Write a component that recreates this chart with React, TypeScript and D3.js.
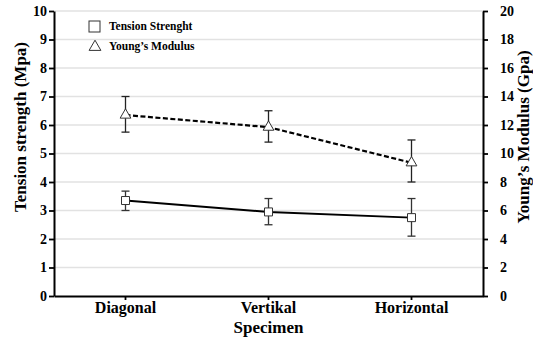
import { useEffect, useRef } from "react";
import * as d3 from "d3";

const specimens = ["Diagonal", "Vertikal", "Horizontal"];
const tensionMean = [3.35, 2.95, 2.75];
const tensionLow = [3.0, 2.5, 2.1];
const tensionHigh = [3.68, 3.42, 3.42];
const youngMean = [12.7, 11.85, 9.35];
const youngLow = [11.5, 10.8, 8.0];
const youngHigh = [14.0, 13.0, 10.95];
const leftTicks = d3.range(0, 11, 1);
const rightTicks = d3.range(0, 21, 2);

const FONT = "Liberation Serif, DejaVu Serif, serif";

const App = () => {
  const ref = useRef<SVGSVGElement>(null);

  useEffect(() => {
    const width = 533;
    const height = 343;
    const margin = { top: 11, right: 50, bottom: 47, left: 54 };
    const svg = d3.select(ref.current);
    svg.selectAll("*").remove();

    const x = d3.scaleBand().domain(specimens).range([margin.left, width - margin.right]).padding(0);
    const yL = d3.scaleLinear().domain([0, 10]).range([height - margin.bottom, margin.top]);
    const yR = d3.scaleLinear().domain([0, 20]).range([height - margin.bottom, margin.top]);
    const cx = (s: string) => (x(s) as number) + x.bandwidth() / 2;

    // grid
    svg.append("g")
      .selectAll("line")
      .data(leftTicks.slice(1))
      .join("line")
      .attr("x1", margin.left)
      .attr("x2", width - margin.right)
      .attr("y1", (d) => yL(d))
      .attr("y2", (d) => yL(d))
      .attr("stroke", "#e2e2e2")
      .attr("stroke-width", 1.5);

    const styleAxis = (g: any) => {
      g.attr("font-family", null);
      g.select(".domain").attr("stroke", "#000").attr("stroke-width", 2);
      g.selectAll(".tick line").attr("stroke", "#000").attr("stroke-width", 1.8);
      g.selectAll("text").style("font-family", FONT).style("font-weight", "bold").style("font-size", "14px").attr("fill", "#000");
    };

    svg.append("g")
      .attr("transform", `translate(${margin.left},0)`)
      .call(d3.axisLeft(yL).tickValues(leftTicks).tickSize(5).tickSizeOuter(0).tickPadding(2))
      .call(styleAxis);

    svg.append("g")
      .attr("transform", `translate(${width - margin.right},0)`)
      .call(d3.axisRight(yR).tickValues(rightTicks).tickSize(5).tickSizeOuter(0).tickPadding(12))
      .call(styleAxis);

    svg.append("g")
      .attr("transform", `translate(0,${height - margin.bottom})`)
      .call(d3.axisBottom(x).tickSize(4).tickSizeOuter(0).tickPadding(2))
      .call(styleAxis)
      .selectAll("text")
      .style("font-size", "16px");

    // error bars
    const errBars = (low: number[], high: number[], y: d3.ScaleLinear<number, number>, color: string) => {
      const g = svg.append("g").attr("stroke", color).attr("stroke-width", 1.3);
      specimens.forEach((s, i) => {
        g.append("line").attr("x1", cx(s)).attr("x2", cx(s)).attr("y1", y(low[i])).attr("y2", y(high[i]));
        g.append("line").attr("x1", cx(s) - 4).attr("x2", cx(s) + 4).attr("y1", y(low[i])).attr("y2", y(low[i]));
        g.append("line").attr("x1", cx(s) - 4).attr("x2", cx(s) + 4).attr("y1", y(high[i])).attr("y2", y(high[i]));
      });
    };
    errBars(tensionLow, tensionHigh, yL, "#333");
    errBars(youngLow, youngHigh, yR, "#222");

    const lineT = d3.line<number>().x((_, i) => cx(specimens[i])).y((d) => yL(d));
    const lineY = d3.line<number>().x((_, i) => cx(specimens[i])).y((d) => yR(d));

    svg.append("path").datum(tensionMean).attr("d", lineT).attr("fill", "none").attr("stroke", "#000").attr("stroke-width", 2);
    svg.append("path").datum(youngMean).attr("d", lineY).attr("fill", "none").attr("stroke", "#000").attr("stroke-width", 2.2).attr("stroke-dasharray", "5,2.5");

    const sq = d3.symbol().type(d3.symbolSquare).size(64);
    const tri = d3.symbol().type(d3.symbolTriangle).size(50);

    svg.append("g").selectAll("path").data(tensionMean).join("path")
      .attr("d", sq)
      .attr("transform", (d, i) => `translate(${cx(specimens[i])},${yL(d)})`)
      .attr("fill", "#fff").attr("stroke", "#333").attr("stroke-width", 1);
    svg.append("g").selectAll("path").data(youngMean).join("path")
      .attr("d", tri)
      .attr("transform", (d, i) => `translate(${cx(specimens[i])},${yR(d)})`)
      .attr("fill", "#fff").attr("stroke", "#333").attr("stroke-width", 1);

    // legend
    const leg = svg.append("g").style("font-family", FONT).style("font-weight", "bold").style("font-size", "11.5px");
    leg.append("rect").attr("x", 89).attr("y", 21).attr("width", 11).attr("height", 11).attr("fill", "#fff").attr("stroke", "#333");
    leg.append("text").attr("x", 109).attr("y", 30).text("Tension Strenght");
    leg.append("path").attr("d", d3.symbol().type(d3.symbolTriangle).size(60)()).attr("transform", "translate(95,47)").attr("fill", "#fff").attr("stroke", "#333");
    leg.append("text").attr("x", 109).attr("y", 50).text("Young\u2019s Modulus");

    // titles
    const title = (t: any) => t.attr("text-anchor", "middle").style("font-family", FONT).style("font-weight", "bold").style("font-size", "17px");
    svg.append("text")
      .attr("transform", "translate(26,127) rotate(-90)")
      .call(title)
      .text("Tension strength (Mpa)");
    svg.append("text")
      .attr("transform", "translate(529,137) rotate(-90)")
      .call(title)
      .text("Young\u2019s Modulus (Gpa)");
    svg.append("text")
      .attr("x", (margin.left + width - margin.right) / 2).attr("y", 333)
      .call(title)
      .text("Specimen");
  }, []);

  return (
    <svg ref={ref} width={533} height={343} style={{ position: "absolute", left: 0, top: 0, background: "#fff" }} />
  );
};

export default App;
